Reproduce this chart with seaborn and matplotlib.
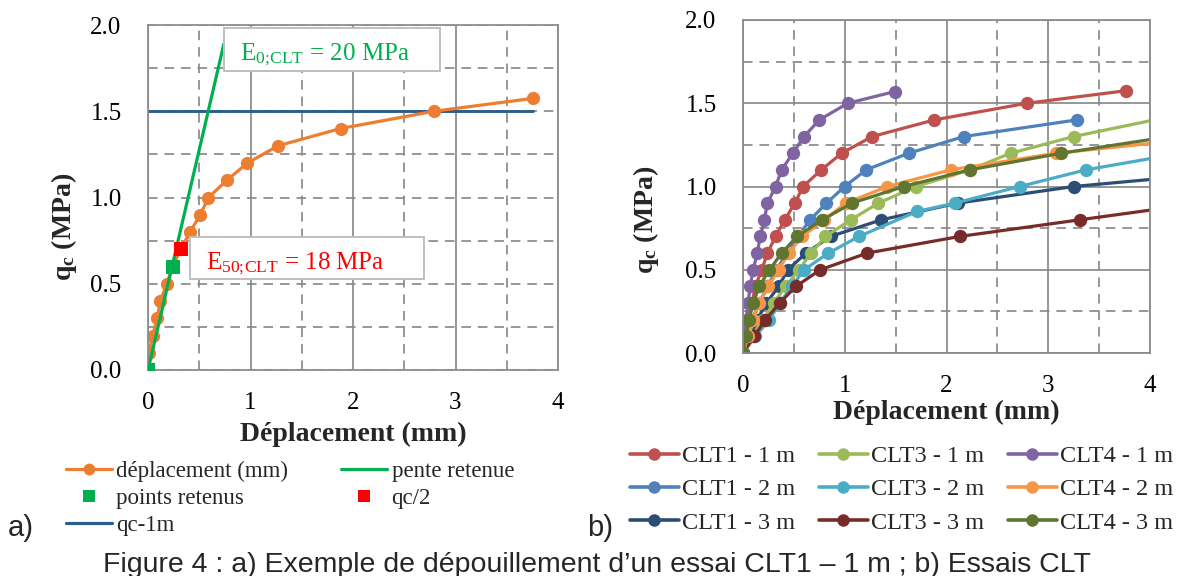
import matplotlib
matplotlib.use("Agg")
import matplotlib.pyplot as plt
import seaborn as sns
import pandas as pd
from matplotlib.patches import Rectangle
from matplotlib.lines import Line2D
from matplotlib.ticker import FormatStrFormatter

# ---------------- data ----------------
# panel b) series (displacement in mm, qc in MPa)
clt1_1m_x = [0, 0.01, 0.045, 0.09, 0.12, 0.185, 0.24, 0.32, 0.41, 0.51, 0.59, 0.77, 0.97, 1.27, 1.88, 2.79, 3.76]
clt1_1m_y = [0, 0.1, 0.2, 0.3, 0.4, 0.5, 0.6, 0.7, 0.8, 0.9, 1.0, 1.1, 1.2, 1.3, 1.4, 1.5, 1.575]
clt1_2m_x = [0, 0.04, 0.09, 0.16, 0.24, 0.33, 0.43, 0.54, 0.66, 0.82, 1.0, 1.21, 1.63, 2.17, 3.28]
clt1_2m_y = [0, 0.1, 0.2, 0.3, 0.4, 0.5, 0.6, 0.7, 0.8, 0.9, 1.0, 1.1, 1.2, 1.3, 1.4]
clt1_3m_x = [0, 0.08, 0.14, 0.23, 0.35, 0.44, 0.62, 0.86, 1.36, 2.11, 3.25, 4.5]
clt1_3m_y = [0, 0.1, 0.2, 0.3, 0.4, 0.5, 0.6, 0.7, 0.8, 0.9, 1.0, 1.07]
clt3_1m_x = [0, 0.09, 0.2, 0.3, 0.42, 0.55, 0.67, 0.81, 1.06, 1.33, 1.70, 2.23, 2.63, 3.25, 4.2]
clt3_1m_y = [0, 0.1, 0.2, 0.3, 0.4, 0.5, 0.6, 0.7, 0.8, 0.9, 1.0, 1.1, 1.2, 1.3, 1.42]
clt3_2m_x = [0, 0.12, 0.26, 0.36, 0.48, 0.6, 0.84, 1.14, 1.71, 2.08, 2.72, 3.37, 4.4]
clt3_2m_y = [0, 0.1, 0.2, 0.3, 0.4, 0.5, 0.6, 0.7, 0.85, 0.9, 1.0, 1.1, 1.21]
clt3_3m_x = [0, 0.11, 0.22, 0.36, 0.52, 0.76, 1.22, 2.13, 3.31, 4.5]
clt3_3m_y = [0, 0.1, 0.2, 0.3, 0.4, 0.5, 0.6, 0.7, 0.8, 0.9]
clt4_1m_x = [0, 0.01, 0.03, 0.05, 0.07, 0.1, 0.14, 0.17, 0.21, 0.24, 0.32, 0.38, 0.49, 0.6, 0.75, 1.03, 1.49]
clt4_1m_y = [0, 0.1, 0.2, 0.3, 0.4, 0.5, 0.6, 0.7, 0.8, 0.9, 1.0, 1.1, 1.2, 1.3, 1.4, 1.5, 1.57]
clt4_2m_x = [0, 0.05, 0.1, 0.16, 0.25, 0.35, 0.45, 0.58, 0.8, 1.01, 1.42, 2.04, 3.08, 4.5]
clt4_2m_y = [0, 0.1, 0.2, 0.3, 0.4, 0.5, 0.6, 0.7, 0.8, 0.9, 1.0, 1.1, 1.2, 1.29]
clt4_3m_x = [0, 0.03, 0.06, 0.1, 0.16, 0.26, 0.38, 0.53, 0.78, 1.07, 1.58, 2.23, 3.13, 4.3]
clt4_3m_y = [0, 0.1, 0.2, 0.3, 0.4, 0.5, 0.6, 0.7, 0.8, 0.9, 1.0, 1.1, 1.2, 1.31]

series_labels = ["CLT1 - 1 m", "CLT1 - 2 m", "CLT1 - 3 m",
                 "CLT3 - 1 m", "CLT3 - 2 m", "CLT3 - 3 m",
                 "CLT4 - 1 m", "CLT4 - 2 m", "CLT4 - 3 m"]
series_x = [clt1_1m_x, clt1_2m_x, clt1_3m_x, clt3_1m_x, clt3_2m_x, clt3_3m_x,
            clt4_1m_x, clt4_2m_x, clt4_3m_x]
series_y = [clt1_1m_y, clt1_2m_y, clt1_3m_y, clt3_1m_y, clt3_2m_y, clt3_3m_y,
            clt4_1m_y, clt4_2m_y, clt4_3m_y]
series_colors = ["#C0504D", "#4F81BD", "#2C4D75",
                 "#9BBB59", "#4BACC6", "#772C2A",
                 "#8064A2", "#F79646", "#5F7530"]

# panel a) (example CLT1 - 1 m)
dep_x = clt1_1m_x
dep_y = clt1_1m_y
pente_x = [0, 0.74]
pente_y = [0, 1.89]
points_x = [0, 0.24]
points_y = [0, 0.6]
qc2_x = [0.32]
qc2_y = [0.7]
qc1m_x = [0, 3.76]
qc1m_y = [1.5, 1.5]

x_ticks = [0, 1, 2, 3, 4]
y_ticks = [0.0, 0.5, 1.0, 1.5, 2.0]

# ---------------- style ----------------
sns.set_theme(style="white")
plt.rcParams["font.family"] = ["Liberation Serif", "DejaVu Serif"]
plt.rcParams["mathtext.fontset"] = "custom"
plt.rcParams["mathtext.rm"] = "Liberation Serif"
plt.rcParams["mathtext.it"] = "Liberation Serif:italic"
plt.rcParams["mathtext.bf"] = "Liberation Serif:bold"

W, H = 1181, 576
fig = plt.figure(figsize=(W / 100, H / 100), dpi=100)
fig.patch.set_facecolor("white")

GC = "#8A8A8A"
GLW = 1.25
DASH = (0, (5.5, 4.0))


def fx(px):
    return px / W


def fy(py):
    return 1 - py / H


def style_axes(ax, ysolid):
    ax.set_xlim(0, 4)
    ax.set_ylim(0, 2)
    ax.set_xticks(x_ticks)
    ax.set_xticks([0.5, 1.5, 2.5, 3.5], minor=True)
    ax.set_yticks(y_ticks)
    ax.set_yticks([0.25, 0.75, 1.25, 1.75], minor=True)
    ax.yaxis.set_major_formatter(FormatStrFormatter("%.1f"))
    ax.xaxis.set_major_formatter(FormatStrFormatter("%d"))
    ax.xaxis.grid(True, which="major", color=GC, lw=GLW, ls="-")
    ax.xaxis.grid(True, which="minor", color=GC, lw=GLW, ls=DASH)
    ax.yaxis.grid(True, which="major", color=GC, lw=GLW, ls="-" if ysolid else DASH)
    ax.yaxis.grid(True, which="minor", color=GC, lw=GLW, ls=DASH)
    ax.set_axisbelow(True)
    ax.tick_params(which="both", length=0, labelsize=18, colors="black")
    ax.tick_params(axis="y", pad=19)
    ax.tick_params(axis="x", pad=16)
    for s in ax.spines.values():
        s.set_color(GC)
        s.set_linewidth(GLW)
        s.set_visible(True)
    ax.set_facecolor("white")


# ---------------- panel a ----------------
ax1 = fig.add_axes([fx(148), fy(370), (558 - 148) / W, (370 - 25) / H])
style_axes(ax1, ysolid=False)

ORANGE = "#ED7D31"
GREEN = "#00B050"
RED = "#FF0000"
BLUE = "#2A5E8F"

sns.lineplot(x=qc1m_x, y=qc1m_y, ax=ax1, color=BLUE, linewidth=2.1,
             sort=False, estimator=None, legend=False)
sns.lineplot(x=dep_x, y=dep_y, ax=ax1, color=ORANGE, linewidth=2.3, marker="o",
             markersize=9.5, markeredgewidth=0, sort=False, estimator=None, legend=False)
sns.lineplot(x=pente_x, y=pente_y, ax=ax1, color=GREEN, linewidth=2.3,
             sort=False, estimator=None, legend=False)
sns.scatterplot(x=points_x, y=points_y, ax=ax1, color=GREEN, marker="s", s=105,
                linewidth=0, legend=False, zorder=5)
sns.scatterplot(x=qc2_x, y=qc2_y, ax=ax1, color=RED, marker="s", s=105,
                linewidth=0, legend=False, zorder=5)

ax1.set_xlabel("Déplacement (mm)", fontsize=20, fontweight="bold")
ax1.set_ylabel(r"q$_{\mathbf{c}}$ (MPa)", fontsize=20, fontweight="bold")
ax1.xaxis.set_label_coords((353 - 148) / 410, (370 - 434) / 345)
ax1.xaxis.label.set_va("center")
ax1.yaxis.set_label_coords((64 - 148) / 410, (370 - 227) / 345)
ax1.yaxis.label.set_va("center")

# annotation boxes
fig.add_artist(Rectangle((fx(224), fy(71)), 216 / W, 43 / H, transform=fig.transFigure,
                         facecolor="white", edgecolor="#BFBFBF", lw=1.4, zorder=3))
fig.text(fx(240), fy(59), r"E$_{\mathrm{0;\!CLT}}$ = 20 MPa", color=GREEN, fontsize=18,
         ha="left", va="baseline", zorder=4)
fig.add_artist(Rectangle((fx(190), fy(279)), 234 / W, 42 / H, transform=fig.transFigure,
                         facecolor="white", edgecolor="#BFBFBF", lw=1.4, zorder=3))
fig.text(fx(206), fy(268), r"E$_{\mathrm{50;\!CLT}}$ = 18 MPa", color=RED, fontsize=18,
         ha="left", va="baseline", zorder=4)

h_a = [Line2D([], [], color=ORANGE, lw=2.3, marker="o", ms=8.5, mew=0),
       Line2D([], [], ls="none", color=GREEN, marker="s", ms=8.5, mew=0),
       Line2D([], [], color=BLUE, lw=2.3),
       Line2D([], [], color=GREEN, lw=2.3),
       Line2D([], [], ls="none", color=RED, marker="s", ms=8.5, mew=0)]
l_a = ["déplacement (mm)", "points retenus", "qc-1m", "pente retenue", "qc/2"]
ax1.legend(h_a, l_a, ncol=2, loc="upper left", bbox_to_anchor=(fx(66), fy(461)),
           bbox_transform=fig.transFigure, frameon=False, fontsize=16.5,
           handlelength=2.0, handletextpad=0.2, columnspacing=2.3, labelspacing=0.25,
           borderpad=0, borderaxespad=0)

# ---------------- panel b ----------------
ax2 = fig.add_axes([fx(743), fy(353), (1150 - 743) / W, (353 - 20) / H])
style_axes(ax2, ysolid=True)

for xs, ys, c in zip(series_x, series_y, series_colors):
    sns.lineplot(x=xs, y=ys, ax=ax2, color=c, linewidth=2.3, marker="o",
                 markersize=9.6, markeredgewidth=0, sort=False, estimator=None,
                 legend=False)

ax2.set_xlabel("Déplacement (mm)", fontsize=20, fontweight="bold")
ax2.set_ylabel(r"q$_{\mathbf{c}}$ (MPa)", fontsize=20, fontweight="bold")
ax2.xaxis.set_label_coords((946 - 743) / 407, (353 - 412) / 333)
ax2.xaxis.label.set_va("center")
ax2.yaxis.set_label_coords((646 - 743) / 407, (353 - 220) / 333)
ax2.yaxis.label.set_va("center")

h_b = [Line2D([], [], color=c, lw=2.6, marker="o", ms=9, mew=0) for c in series_colors]
ax2.legend(h_b, series_labels, ncol=3, loc="upper left", bbox_to_anchor=(fx(630), fy(445)),
           bbox_transform=fig.transFigure, frameon=False, fontsize=17.5,
           handlelength=2.0, handletextpad=0.12, columnspacing=1.0, labelspacing=0.47,
           borderpad=0, borderaxespad=0)

# ---------------- captions ----------------
SANS = ["Liberation Sans", "DejaVu Sans"]
fig.text(fx(8), fy(528), "a)", fontsize=21, family=SANS, ha="left", va="center")
fig.text(fx(587), fy(528), "b)", fontsize=21, family=SANS, ha="left", va="center")
fig.text(fx(597), fy(572), "Figure 4 : a) Exemple de dépouillement d’un essai CLT1 – 1 m ; b) Essais CLT",
         fontsize=20.5, family=SANS, ha="center", va="baseline")

fig.savefig("out.png", dpi=100)
